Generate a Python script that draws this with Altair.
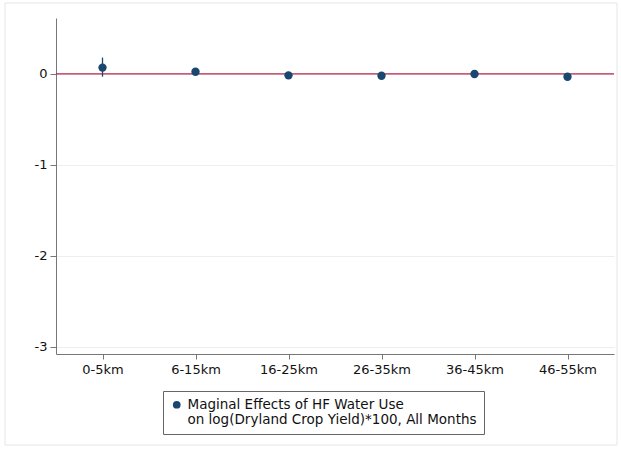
import altair as alt
import pandas as pd

categories = ["0-5km", "6-15km", "16-25km", "26-35km", "36-45km", "46-55km"]
estimates = [0.07, 0.025, -0.015, -0.02, 0.0, -0.03]
ci_low = [-0.03, -0.01, -0.045, -0.05, -0.03, -0.06]
ci_high = [0.18, 0.06, 0.015, 0.01, 0.03, 0.0]
series_label = "Maginal Effects of HF Water Use|on log(Dryland Crop Yield)*100, All Months"

df = pd.DataFrame({
    "dist": categories,
    "est": estimates,
    "lo": ci_low,
    "hi": ci_high,
    "series": [series_label] * len(categories),
})

NAVY = "#1a476f"
FONT = "DejaVu Sans"

xenc = alt.X(
    "dist:N", sort=categories, title=None,
    scale=alt.Scale(type="point", padding=0.5),
    axis=alt.Axis(labelAngle=0, labelFontSize=13, labelFont=FONT, labelColor="#111",
                  tickSize=5, tickColor="#777", domainColor="#777", labelPadding=4,
                  grid=False),
)
yscale = alt.Scale(domain=[-3.077, 0.615], nice=False, zero=False)

base = alt.Chart(df)

frame = alt.Chart(pd.DataFrame({"a": [0]})).mark_rect(
    fill=None, stroke="#e6e6e6", strokeWidth=1, clip=False
).encode(x=alt.value(-51), x2=alt.value(561), y=alt.value(-15), y2=alt.value(427))

zero_line = alt.Chart(pd.DataFrame({"z": [0]})).mark_rule(
    color="#b8264a", strokeWidth=1.3
).encode(y=alt.Y("z:Q", scale=yscale))

bars = base.mark_rule(color=NAVY, strokeWidth=1.3).encode(
    x=xenc,
    y=alt.Y("lo:Q", scale=yscale, title=None,
            axis=alt.Axis(values=[0, -1, -2, -3], labelFontSize=13, labelFont=FONT,
                          labelColor="#111", tickSize=6, tickColor="#777",
                          labelExpr="toString(datum.value)",
                          domainColor="#777", labelPadding=3, grid=True,
                          gridColor="#eeeeee")),
    y2="hi:Q",
)

points = base.mark_circle(size=70, opacity=1).encode(
    x=xenc,
    y=alt.Y("est:Q", scale=yscale),
    color=alt.Color(
        "series:N", scale=alt.Scale(range=[NAVY]), title=None,
        legend=alt.Legend(orient="none", legendX=107, legendY=373,
                          strokeColor="#666", padding=7, symbolSize=60,
                          symbolType="circle", labelFontSize=13.5, labelFont=FONT,
                          labelColor="#111", labelLimit=600,
                          labelExpr="split(datum.label, '|')", fillColor="white"),
    ),
)

chart = alt.layer(frame, zero_line, bars, points).properties(
    width=558, height=336,
    autosize=alt.AutoSizeParams(type="none"),
    padding={"left": 56, "top": 18, "right": 7, "bottom": 102},
    background="white",
).configure_view(stroke=None)

chart.save("out.html", embed_options={"renderer": "svg", "actions": False})
